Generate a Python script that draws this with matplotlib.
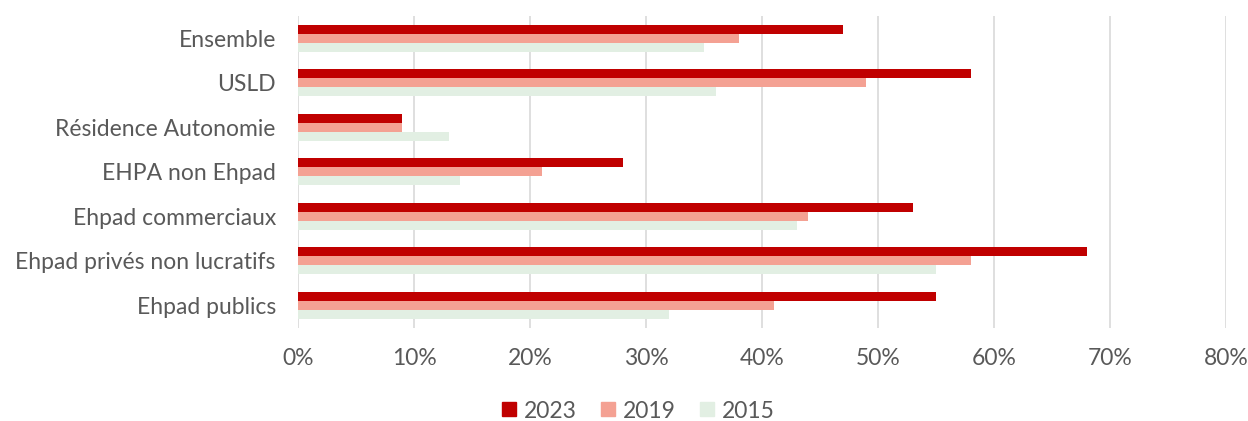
import numpy as np
import matplotlib.pyplot as plt
from matplotlib.lines import Line2D

categories = ["Ensemble", "USLD", "Résidence Autonomie", "EHPA non Ehpad",
              "Ehpad commerciaux", "Ehpad privés non lucratifs", "Ehpad publics"]
v2023 = [47, 58, 9, 28, 53, 68, 55]
v2019 = [38, 49, 9, 21, 44, 58, 41]
v2015 = [35, 36, 13, 14, 43, 55, 32]
series = [("2023", v2023, "#C00000"), ("2019", v2019, "#F4A193"), ("2015", v2015, "#E2EFE3")]

plt.rcParams['font.family'] = ['Lato', 'DejaVu Sans']
txt = "#595959"
fs = 16.5

fig = plt.figure(figsize=(12.48, 4.21), dpi=100)
ax = fig.add_axes([298/1248, 1-327.5/421, (1226-298)/1248, (327.5-16)/421])

y = np.arange(len(categories))
h = 0.2
for i, (lab, vals, col) in enumerate(series):
    ax.barh(y + (i - 1) * h, vals, height=h, color=col, label=lab, zorder=3)

ax.set_ylim(len(categories) - 0.5, -0.5)
ax.set_xlim(0, 80)
ax.set_xticks(np.arange(0, 81, 10))
ax.set_xticklabels([f"{t}%" for t in range(0, 81, 10)])
ax.set_yticks(y)
ax.set_yticklabels(categories)
ax.tick_params(axis='both', length=0, labelsize=fs, colors=txt)
ax.tick_params(axis='x', pad=15)
ax.tick_params(axis='y', pad=16)
ax.grid(axis='x', color="#D9D9D9", linewidth=1.2, zorder=0)
for s in ax.spines.values():
    s.set_visible(False)

handles = [Line2D([], [], marker='s', linestyle='none', markersize=10, color=c) for _, _, c in series]
leg = fig.legend(handles, [s[0] for s in series], loc='center',
                 bbox_to_anchor=(638/1248, 1-411/421), ncol=3, frameon=False,
                 fontsize=fs, handlelength=0.7, handletextpad=0.3, columnspacing=1.0)
for t in leg.get_texts():
    t.set_color(txt)

fig.savefig("out.png", dpi=100)
